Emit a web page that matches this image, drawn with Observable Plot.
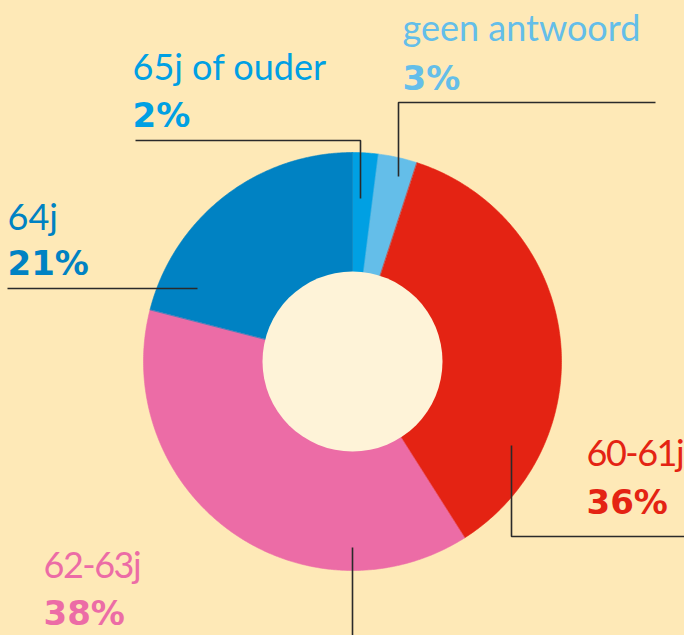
<!DOCTYPE html>
<html>
<head>
<meta charset="utf-8">
<script src="https://cdn.jsdelivr.net/npm/d3@7"></script>
<script src="https://cdn.jsdelivr.net/npm/@observablehq/plot@0.6"></script>
<style>
  html, body { margin: 0; padding: 0; background: #FEE9B7; }
  #chart { width: 684px; height: 635px; }
</style>
</head>
<body>
<div id="chart"></div>
<script>
// ---- data ----
const categories = ["65j of ouder", "geen antwoord", "60-61j", "62-63j", "64j"];
const values = [2, 3, 36, 38, 21];
const percentLabels = ["2%", "3%", "36%", "38%", "21%"];

// ---- styles ----
const colors = ["#00A0E3", "#64BEE9", "#E42313", "#EC6CA6", "#0082C3"];
const bg = "#FEE9B7";
const holeColor = "#FEF3D8";
const lineColor = "#2a2a2a";

// ---- layout (pixels) ----
const W = 684, H = 635;
const cx = 352, cy = 361, R = 209, R0 = 90;
const labelPos = [
  {x: 132, y1: 79, y2: 126},
  {x: 402, y1: 40, y2: 89},
  {x: 586, y1: 465, y2: 513},
  {x: 43, y1: 577, y2: 624},
  {x: 7, y1: 229, y2: 274}
];
const leaders = [
  [[135, 140], [360, 140], [360, 198]],
  [[398, 176], [398, 102], [655, 102]],
  [[511, 445], [511, 536], [684, 536]],
  [[352, 547], [352, 635]],
  [[7, 288], [197, 288]]
];

// ---- build ----
const data = categories.map((c, i) => ({category: c, value: values[i]}));
const arcs = d3.pie().sort(null).value(d => d.value).startAngle(0).endAngle(2 * Math.PI)(data);
const polyPts = [];
arcs.forEach(a => {
  const n = Math.max(4, Math.ceil((a.endAngle - a.startAngle) / (Math.PI / 360)));
  for (let k = 0; k <= n; k++) {
    const t = a.startAngle + (a.endAngle - a.startAngle) * k / n;
    polyPts.push({category: a.data.category, x: cx + R * Math.sin(t), y: cy - R * Math.cos(t)});
  }
  for (let k = n; k >= 0; k--) {
    const t = a.startAngle + (a.endAngle - a.startAngle) * k / n;
    polyPts.push({category: a.data.category, x: cx + (R0 - 2) * Math.sin(t), y: cy - (R0 - 2) * Math.cos(t)});
  }
});

const labels1 = categories.map((c, i) => ({text: c, x: labelPos[i].x, y: labelPos[i].y1, category: c}));
const labels2 = categories.map((c, i) => ({text: percentLabels[i], x: labelPos[i].x, y: labelPos[i].y2, category: c}));
const leaderPts = leaders.flatMap((l, i) => l.map(p => ({id: i, x: p[0], y: p[1]})));

const chart = Plot.plot({
  width: W,
  height: H,
  margin: 0,
  x: {domain: [0, W], axis: null},
  y: {domain: [H, 0], axis: null},
  color: {domain: categories, range: colors},
  style: {background: bg, fontFamily: "Lato, sans-serif", overflow: "visible"},
  marks: [
    Plot.line(polyPts, {x: "x", y: "y", z: "category", fill: "category", stroke: "category", strokeWidth: 0.6, curve: "linear-closed"}),
    Plot.dot([{x: cx, y: cy}], {x: "x", y: "y", r: R0, fill: holeColor, stroke: "none"}),
    Plot.line(leaderPts, {x: "x", y: "y", z: "id", stroke: lineColor, strokeWidth: 1.6, strokeLinecap: "butt", strokeLinejoin: "miter"}),
    Plot.text(labels1, {x: "x", y: "y", text: "text", fill: "category", textAnchor: "start", lineAnchor: "bottom", fontSize: 36, fontFamily: "Lato", fontWeight: 400}),
    Plot.text(labels2, {x: "x", y: "y", text: "text", fill: "category", textAnchor: "start", lineAnchor: "bottom", fontSize: 34, fontFamily: "DejaVu Sans", fontWeight: 700})
  ]
});
// tighten hyphenated labels to match the original narrower typeface
d3.select(chart).selectAll("text").filter(function() { return this.textContent.includes("-"); })
  .style("letter-spacing", "-1.5px");
document.getElementById("chart").appendChild(chart);
</script>
</body>
</html>
